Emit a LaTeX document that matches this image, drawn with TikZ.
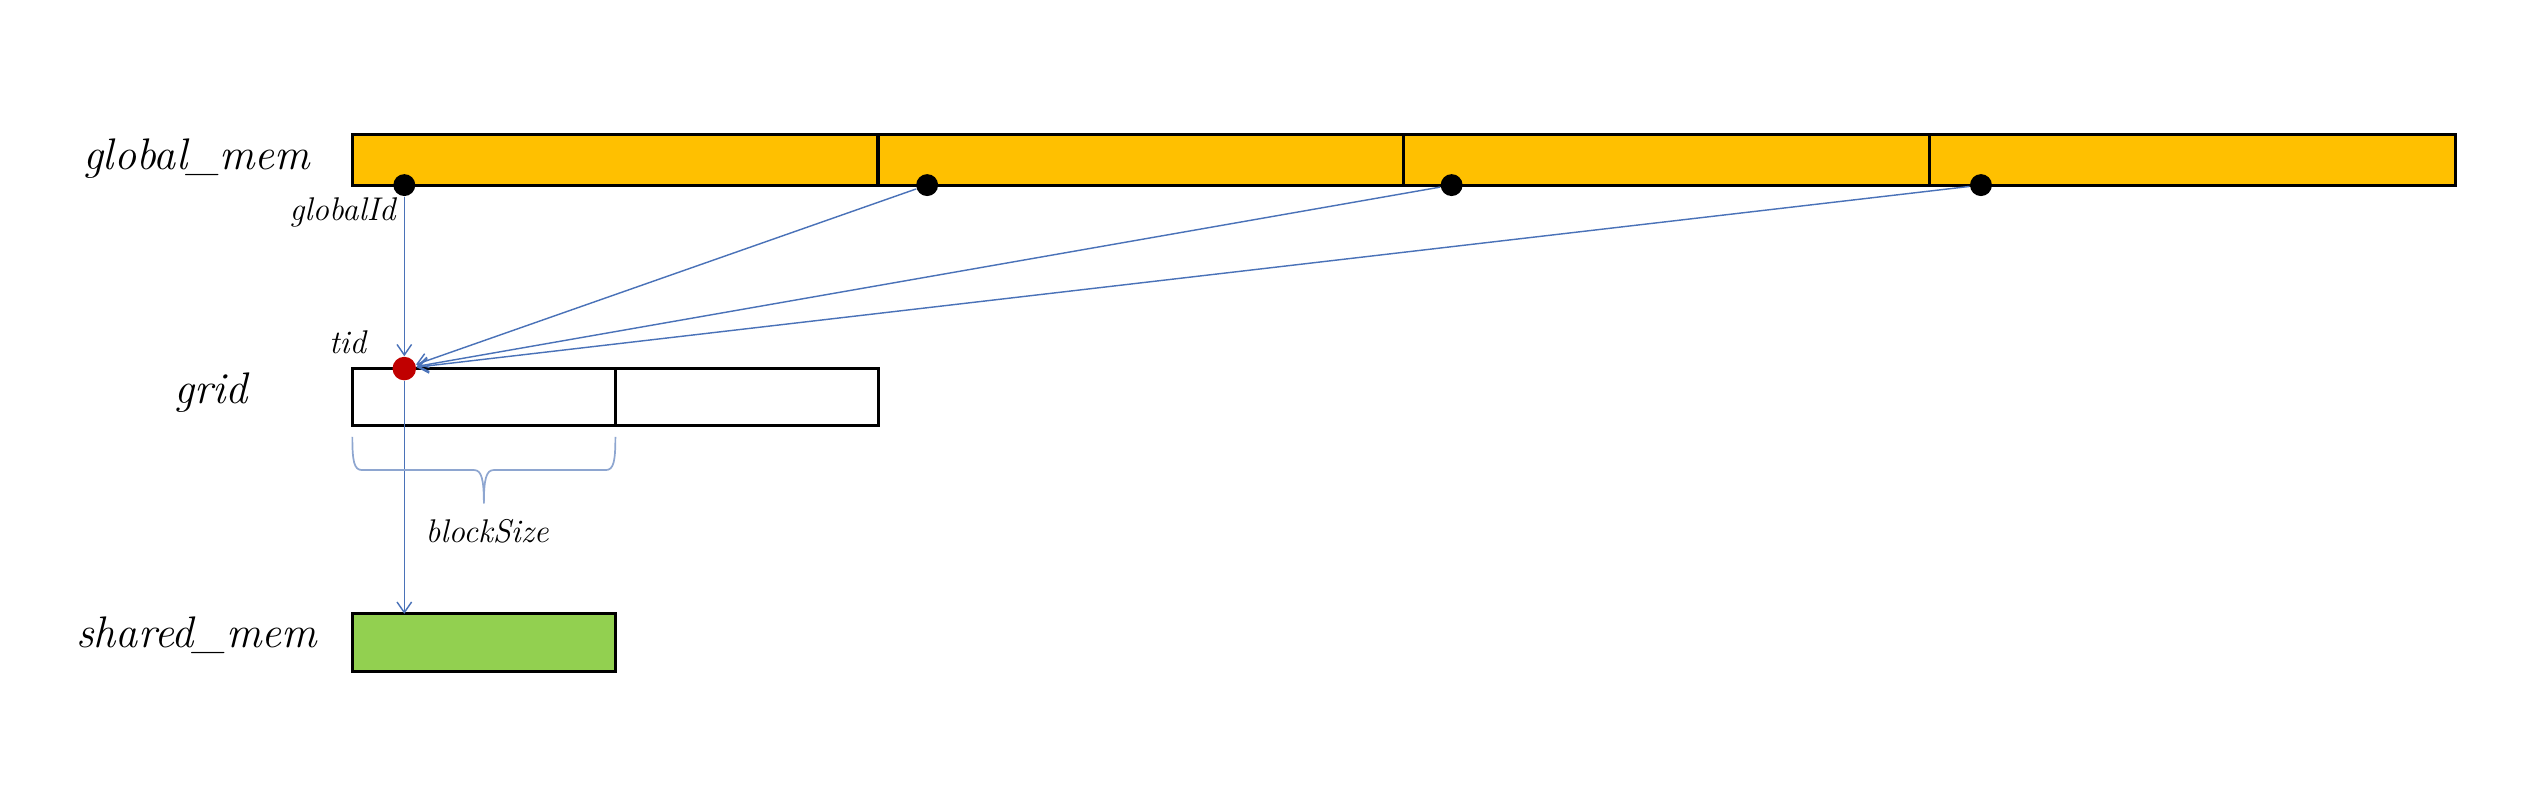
\documentclass[tikz,border=0pt]{standalone}
\usetikzlibrary{arrows.meta}
\definecolor{gold}{HTML}{FFC000}
\definecolor{leaf}{HTML}{92D050}
\definecolor{dotred}{HTML}{C00000}
\definecolor{linkblue}{HTML}{4A72B8}
\definecolor{bracegray}{HTML}{8EA6D0}

\begin{document}
\begin{tikzpicture}[
    cell/.style={draw, line width=1.1pt, anchor=west, inner sep=0pt, outer sep=0pt},
    dot/.style={circle, inner sep=0pt, minimum size=0.27cm},
    biglabel/.style={font=\fontsize{15.5}{18}\selectfont\itshape},
    smalllabel/.style={font=\fontsize{11.5}{14}\selectfont\itshape},
    link/.style={draw=linkblue, line width=0.5pt, -{Straight Barb[length=1.3mm, width=1.8mm]}}
]
    \useasboundingbox (0,0) rectangle (31.36,9.9);

    \node [biglabel] (G) at (2.42, 7.94) {global\_mem};
    \node [biglabel] (R) at (2.6, 5.06) {grid};
    \node [biglabel] (S) at (2.42, 2.08) {shared\_mem};

    \node [cell, fill=gold, minimum width=6.475cm, minimum height=0.62cm] (gm1) at (4.34, 7.93) {};
    \node [cell, fill=gold, minimum width=6.475cm, minimum height=0.62cm] (gm2) at (10.815, 7.93) {};
    \node [cell, fill=gold, minimum width=6.475cm, minimum height=0.62cm] (gm3) at (17.29, 7.93) {};
    \node [cell, fill=gold, minimum width=6.475cm, minimum height=0.62cm] (gm4) at (23.765, 7.93) {};

    \node [cell, minimum width=3.24cm, minimum height=0.7cm] (g1) at (4.34, 5.01) {};
    \node [cell, minimum width=3.24cm, minimum height=0.7cm] (g2) at (7.58, 5.01) {};

    \node [cell, fill=leaf, minimum width=3.24cm, minimum height=0.71cm] (s) at (4.34, 1.985) {};

    \node [dot, fill=black] (p1) at (4.98, 7.62) {};
    \node [dot, fill=black] (p2) at (11.42, 7.62) {};
    \node [dot, fill=black] (p3) at (17.88, 7.62) {};
    \node [dot, fill=black] (p4) at (24.4, 7.62) {};
    \node [dot, fill=dotred, minimum size=0.29cm] (t) at (4.98, 5.36) {};

    \node [smalllabel] (gid) at (4.22, 7.28) {globalId};
    \node [smalllabel] (tid) at (4.28, 5.68) {tid};
    \node [smalllabel] (bs) at (6.0, 3.36) {blockSize};

    \draw [link] (p1) -- (t);
    \draw [link] (p2) -- (t);
    \draw [link] (p3) -- (t);
    \draw [link] (p4) -- (t);
    \draw [link] (t) -- (t |- s.north);

    % brace under the first block
    \draw [bracegray, line width=0.6pt]
        (4.34, 4.52) .. controls (4.34, 4.22) and (4.36, 4.11) .. (4.46, 4.11)
        -- (5.84, 4.11) .. controls (5.93, 4.11) and (5.96, 4.0) .. (5.96, 3.70);
    \draw [bracegray, line width=0.6pt]
        (7.58, 4.52) .. controls (7.58, 4.22) and (7.56, 4.11) .. (7.46, 4.11)
        -- (6.08, 4.11) .. controls (5.99, 4.11) and (5.96, 4.0) .. (5.96, 3.70);
\end{tikzpicture}
\end{document}
